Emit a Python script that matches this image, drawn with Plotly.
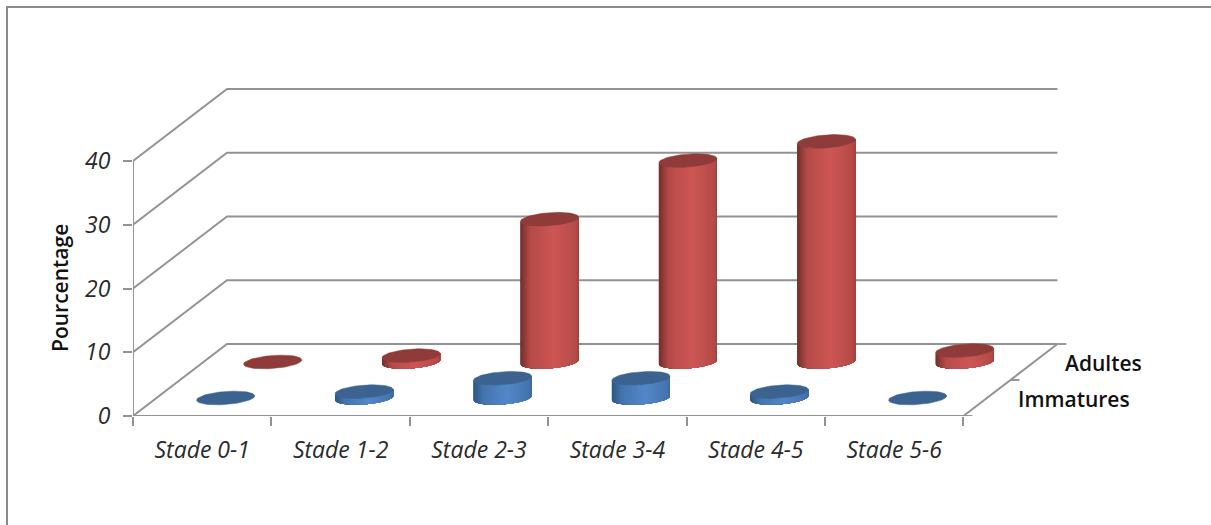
import numpy as np
import plotly.graph_objects as go

categories = ["Stade 0-1", "Stade 1-2", "Stade 2-3", "Stade 3-4", "Stade 4-5", "Stade 5-6"]
immatures = [0.0, 1.0, 3.1, 3.1, 1.0, 0.0]
adultes = [0.0, 1.0, 22.4, 31.6, 34.6, 1.8]
y_ticks = [0, 10, 20, 30, 40]
series_names = ["Immatures", "Adultes"]

# oblique projection, in axis units
DX, DY = 94 / 138.4, 72 / 6.375
RX, DR = 0.2, 0.095
GRID = "#929292"
LW = 1.9
FONT = "Open Sans"

fig = go.Figure()


def line(xs, ys, width=LW, color=GRID):
    fig.add_trace(go.Scatter(x=xs, y=ys, mode="lines", hoverinfo="skip", showlegend=False,
                             line=dict(color=color, width=width)))


def mix(a, b, f):
    ca = [int(a[i:i + 2], 16) for i in (1, 3, 5)]
    cb = [int(b[i:i + 2], 16) for i in (1, 3, 5)]
    return "rgb(%d,%d,%d)" % tuple(round(p + (q - p) * f) for p, q in zip(ca, cb))


def shade(u, dark, mid, light):
    u = abs(u - 0.1) / 1.1
    if u < 0.72:
        return mix(light, mid, u / 0.72)
    return mix(mid, dark, min(1, (u - 0.72) / 0.28))


def ellipse(cx, cy, t):
    return cx + RX * np.cos(t) + DR * DX * np.sin(t), cy + DR * DY * np.sin(t)


def cylinder(cat, depth, value, name, dark, mid, light, top):
    cx = cat + 0.5 + depth * DX
    cy = depth * DY
    t0 = np.arctan2(DR * DX, RX)
    half = np.hypot(RX, DR * DX)
    ts = np.linspace(t0 + np.pi, t0 + 2 * np.pi, 41)
    if value > 0:
        # each layer paints from its own left edge to the far right, so no seams show
        for k in range(len(ts) - 1):
            arc = ts[k:]
            xa, ya = ellipse(cx, cy, arc)
            u = (xa[0] - cx) / half
            c = shade(u, dark, mid, light)
            fig.add_trace(go.Scatter(x=np.r_[xa, xa[::-1], xa[0]], y=np.r_[ya, ya[::-1] + value, ya[0]],
                                     mode="lines", fill="toself", fillcolor=c, hoverinfo="skip",
                                     showlegend=False, line=dict(width=0)))
    t = np.linspace(0, 2 * np.pi, 73)
    xt, yt = ellipse(cx, cy + value, t)
    fig.add_trace(go.Scatter(x=xt, y=yt, mode="lines", fill="toself", fillcolor=top, name=name,
                             showlegend=False, line=dict(color=top, width=0.5),
                             hovertemplate=name + " %{customdata}: " + str(value) + "<extra></extra>",
                             customdata=[categories[cat]] * len(t)))


# walls and floor
n = len(categories)
for v in y_ticks:
    line([0, DX, n + DX], [v, v + DY, v + DY])
line([0, 0], [0, 40])
line([0, n], [0, 0])
line([n, n + DX], [0, DY])
# depth axis tick marks
tick_len = 9 / 138.4
for d in (0, 0.5, 1):
    line([n + d * DX, n + d * DX + tick_len], [d * DY, d * DY])

# cylinders, back row first
for i, v in enumerate(adultes):
    cylinder(i, 0.75, v, series_names[1], "#74302e", "#b54a48", "#cd5654", "#8f3b39")
for i, v in enumerate(immatures):
    cylinder(i, 0.25, v, series_names[0], "#2c5787", "#4474ad", "#5287c9", "#3c628f")

L, R, T, B = 133, 136, 80, 109
W, H = 1211, 525
pw, ph = W - L - R, H - T - B

for j, name in enumerate(series_names):
    d = 0.25 + 0.5 * j
    fig.add_annotation(x=n + d * DX, y=d * DY - 0.1, text=name, showarrow=False,
                       xanchor="left", xshift=29,
                       font=dict(family=FONT, size=21, weight=600, color="#111"))

fig.add_annotation(xref="paper", x=(60 - L) / pw, xanchor="center", yref="paper",
                   y=1 - (288 - T) / ph, yanchor="middle",
                   text="Pourcentage", textangle=-90, showarrow=False,
                   font=dict(family=FONT, size=21, weight=600, color="#111"))

# outer chart frame
fig.add_shape(type="path", xref="paper", yref="paper", layer="below",
              path=f"M {(7 - L) / pw} {(T + ph - 530) / ph} L {(7 - L) / pw} {(T + ph - 7) / ph} L {(W + 5 - L) / pw} {(T + ph - 7) / ph}",
              line=dict(color="#8a8a8a", width=2))

fig.update_layout(
    width=W, height=H, autosize=False,
    margin=dict(l=L, r=R, t=T, b=B, pad=0),
    paper_bgcolor="white", plot_bgcolor="white", showlegend=False,
    xaxis=dict(range=[0, pw / 138.4], showgrid=False, zeroline=False, showline=False,
               tickmode="array", tickvals=[i + 0.5 for i in range(n)], ticktext=categories,
               ticks="", ticklabelstandoff=18,
               tickfont=dict(family=FONT, size=23, color="#2a2a2a", style="italic"),
               minor=dict(tickmode="array", tickvals=list(range(n + 1)), ticks="outside",
                          ticklen=9, tickwidth=LW, tickcolor=GRID)),
    yaxis=dict(range=[0, ph / 6.375], showgrid=False, zeroline=False, showline=False,
               tickmode="array", tickvals=y_ticks, ticks="outside", ticklen=9, tickwidth=LW,
               tickcolor=GRID, ticklabelstandoff=8,
               tickfont=dict(family=FONT, size=23, color="#2a2a2a", style="italic")),
)

fig.write_html("out.html", config={"displayModeBar": False},
               post_script="document.body.style.margin='0';document.body.style.overflow='hidden';")
